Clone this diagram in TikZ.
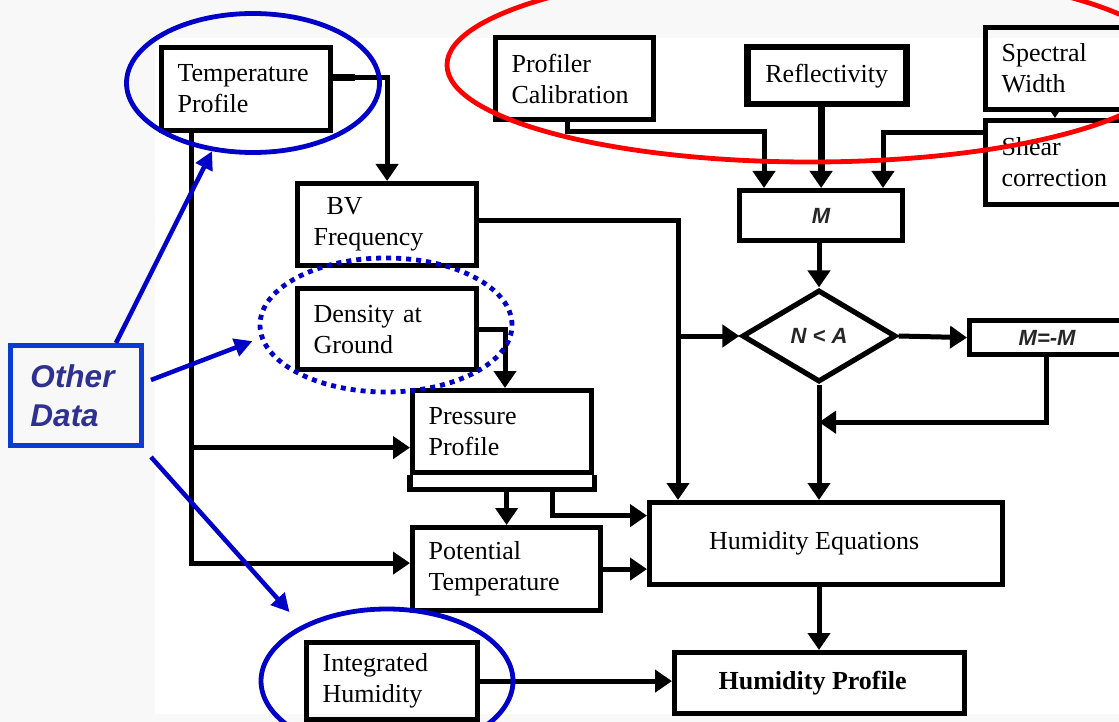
\documentclass[tikz,border=0pt]{standalone}
\usepackage{fontspec}
\setmainfont{Liberation Serif}
\newfontfamily\arialf{Liberation Sans}
\usetikzlibrary{arrows.meta,shapes.geometric,calc}
\definecolor{ellblue}{HTML}{0000C8}
\definecolor{odblue}{HTML}{0A3CD2}
\definecolor{odtext}{HTML}{2E3192}
\definecolor{bgc}{HTML}{F8F8F8}
\tikzset{
 bx/.style={draw, line width=5.2pt, rectangle, anchor=north west, inner xsep=16pt, inner ysep=0pt, align=left, font=\fontsize{26}{31}\selectfont},
 cbx/.style={draw, line width=5.2pt, rectangle, anchor=north west, inner sep=0pt, align=center, font=\fontsize{26}{31}\selectfont},
 con/.style={line width=5pt},
 arr/.style={con, -{Triangle[length=17pt,width=22pt]}},
 barr/.style={draw=ellblue, line width=4.5pt, -{Triangle[length=18pt,width=18pt]}},
 mfont/.style={font=\arialf\bfseries\itshape\fontsize{22}{26}\selectfont, text=black!85},
 ell/.style={ellipse, draw=ellblue, line width=4.8pt, inner sep=0pt},
}
\begin{document}
\begin{tikzpicture}[x=1pt,y=-1pt]
\useasboundingbox (0,0) rectangle (1119,722);
\clip (0,0) rectangle (1119,722);
\fill[bgc] (0,0) rectangle (1119,722);
\fill[white] (155,38) rectangle (1119,714);

% boxes
\node[bx, text width=137pt, minimum height=83pt] (temp) at (159,45) {Temperature\\Profile};
\node[bx, text width=147pt, minimum height=82pt] (bv) at (295,181) {\hspace*{13pt}BV\\Frequency};
\node[bx, text width=147pt, minimum height=81pt] (dens) at (295,286) {Density at\\Ground};
\node[bx, text width=147pt, minimum height=82pt] (press) at (410,388) {Pressure\\Profile};
\node[bx, text width=156pt, minimum height=83pt] (pot) at (410,525) {Potential\\Temperature};
\node[cbx, minimum width=353pt, minimum height=82pt] (heq) at (647,500) {Humidity Equations\hspace*{24pt}};
\node[cbx, minimum width=290pt, minimum height=61pt, font=\bfseries\fontsize{26}{31}\selectfont] (hprof) at (672,650) {Humidity Profile\hspace*{14pt}};
\node[bx, text width=139pt, minimum height=77pt] (integ) at (304,640) {Integrated\\Humidity};
\node[bx, text width=126pt, minimum height=82pt] (prof) at (493,35) {Profiler\\Calibration};
\node[cbx, minimum width=159pt, minimum height=57pt, line width=6.5pt] (refl) at (744,44) {Reflectivity};
\node[bx, text width=118pt, minimum height=82pt] (spec) at (983,25) {Spectral\\Width};
\node[bx, text width=118pt, minimum height=84pt] (shear) at (983,118) {Shear\\correction};
\node[cbx, minimum width=163pt, minimum height=50pt, mfont] (mbox) at (737,188) {M};
\node[diamond, draw, line width=5.2pt, minimum width=154pt, minimum height=92pt, inner sep=0pt, aspect=1.67, mfont] (dia) at (819,336) {N < A};
\node[cbx, minimum width=155pt, minimum height=34pt, mfont] (mneg) at (967,318) {M=-M};
\node[draw=odblue, line width=5pt, anchor=north west, minimum height=100pt, inner xsep=20pt, inner ysep=0pt, text width=91pt, align=left, font=\arialf\bfseries\itshape\fontsize{31.5}{39}\selectfont, text=odtext] (other) at (8,343) {Other\\Data};

% double bottom of pressure box
\coordinate (pbot) at ($(press.south west)+(0,14)$);
\coordinate (pbot2) at ($(press.south east)+(0,14)$);
\draw[line width=5.2pt] (press.south west) -- (pbot) -- (pbot2) -- (press.south east);

% connectors
\coordinate (tq) at ($(temp.east)+(22,-11.5)$);
\draw[line width=7pt] ([yshift=11.5pt]temp.east) -- (tq);
\draw[arr] ([yshift=11.5pt]temp.east) -| (bv.north);
\coordinate (tr) at ($(temp.south west)+(32,0)$);
\coordinate (pin) at ($(press.west)+(0,16)$);
\coordinate (qin) at ($(pot.west)+(0,-6)$);
\draw[arr] (tr) |- (qin);
\draw[arr] (tr |- pin) -- (pin);

\coordinate (bvo) at ($(bv.east)+(0,-4)$);
\coordinate (hin0) at ($(heq.north west)+(31,0)$);
\draw[arr] (bvo) -| (hin0);
\draw[arr] (hin0 |- dia.west) -- (dia.west);

\coordinate (pin2) at ($(press.north west)+(95,0)$);
\draw[arr] (dens.east) -| (pin2);
\draw[arr] (pot.north |- pbot) -- (pot.north);
\coordinate (pq) at ($(pbot)+(142,0)$);
\coordinate (hin1) at ($(heq.west)+(0,-28)$);
\draw[arr] (pq) |- (hin1);
\draw[arr] (pot.east) -- (pot.east -| heq.west);
\draw[arr] (heq.south -| dia.south) -- (hprof.north -| dia.south);
\draw[arr] (integ.east) -- (integ.east -| hprof.west);

\coordinate (mi1) at ($(mbox.north west)+(27,0)$);
\coordinate (pk) at ($(mi1)+(0,-56)$);
\coordinate (pa) at ($(prof.south west)+(74,0)$);
\draw[arr] (pa) |- (pk) -- (mi1);
\draw[arr, line width=7pt] (refl.south -| mbox.north) -- (mbox.north);
\coordinate (mi3) at ($(mbox.north west)+(146,0)$);
\coordinate (sh) at ($(shear.north west)+(0,15)$);
\draw[arr] (sh) -| (mi3);
\coordinate (ss) at ($(spec.south west)+(72,0)$);
\draw[con, -{Triangle[length=8pt,width=10pt]}] (ss) -- (ss |- shear.north);
\draw[arr] (mbox.south -| dia.north) -- (dia.north);
\draw[arr] (dia.east) -- (mneg.west);
\coordinate (fb) at ($(mneg.south west)+(79,0)$);
\coordinate (fk) at ($(fb)+(0,65)$);
\draw[arr] (fb) -- (fk) -- (fk -| dia.south);
\draw[arr] (dia.south) -- (heq.north -| dia.south);

% ellipses
\node[ell, minimum width=253pt, minimum height=139pt] (e1) at (253,83) {};
\node[ell, dash pattern=on 5pt off 5pt, minimum width=252pt, minimum height=134pt] (e2) at (386,325) {};
\node[ell, minimum width=252pt, minimum height=144pt] (e3) at (387,681) {};
\node[ellipse, draw=red, line width=4.8pt, inner sep=0pt, minimum width=726pt, minimum height=194pt] (e4) at (810,65) {};

% blue arrows from Other Data
\draw[barr] ($(other.north west)+(108,0)$) -- (e1.239);
\draw[barr, shorten >=8pt] ($(other.north east)+(7,37)$) -- (e2.186);
\draw[barr, shorten >=18pt] ($(other.south east)+(7,9)$) -- (e3.147);
\end{tikzpicture}
\end{document}
